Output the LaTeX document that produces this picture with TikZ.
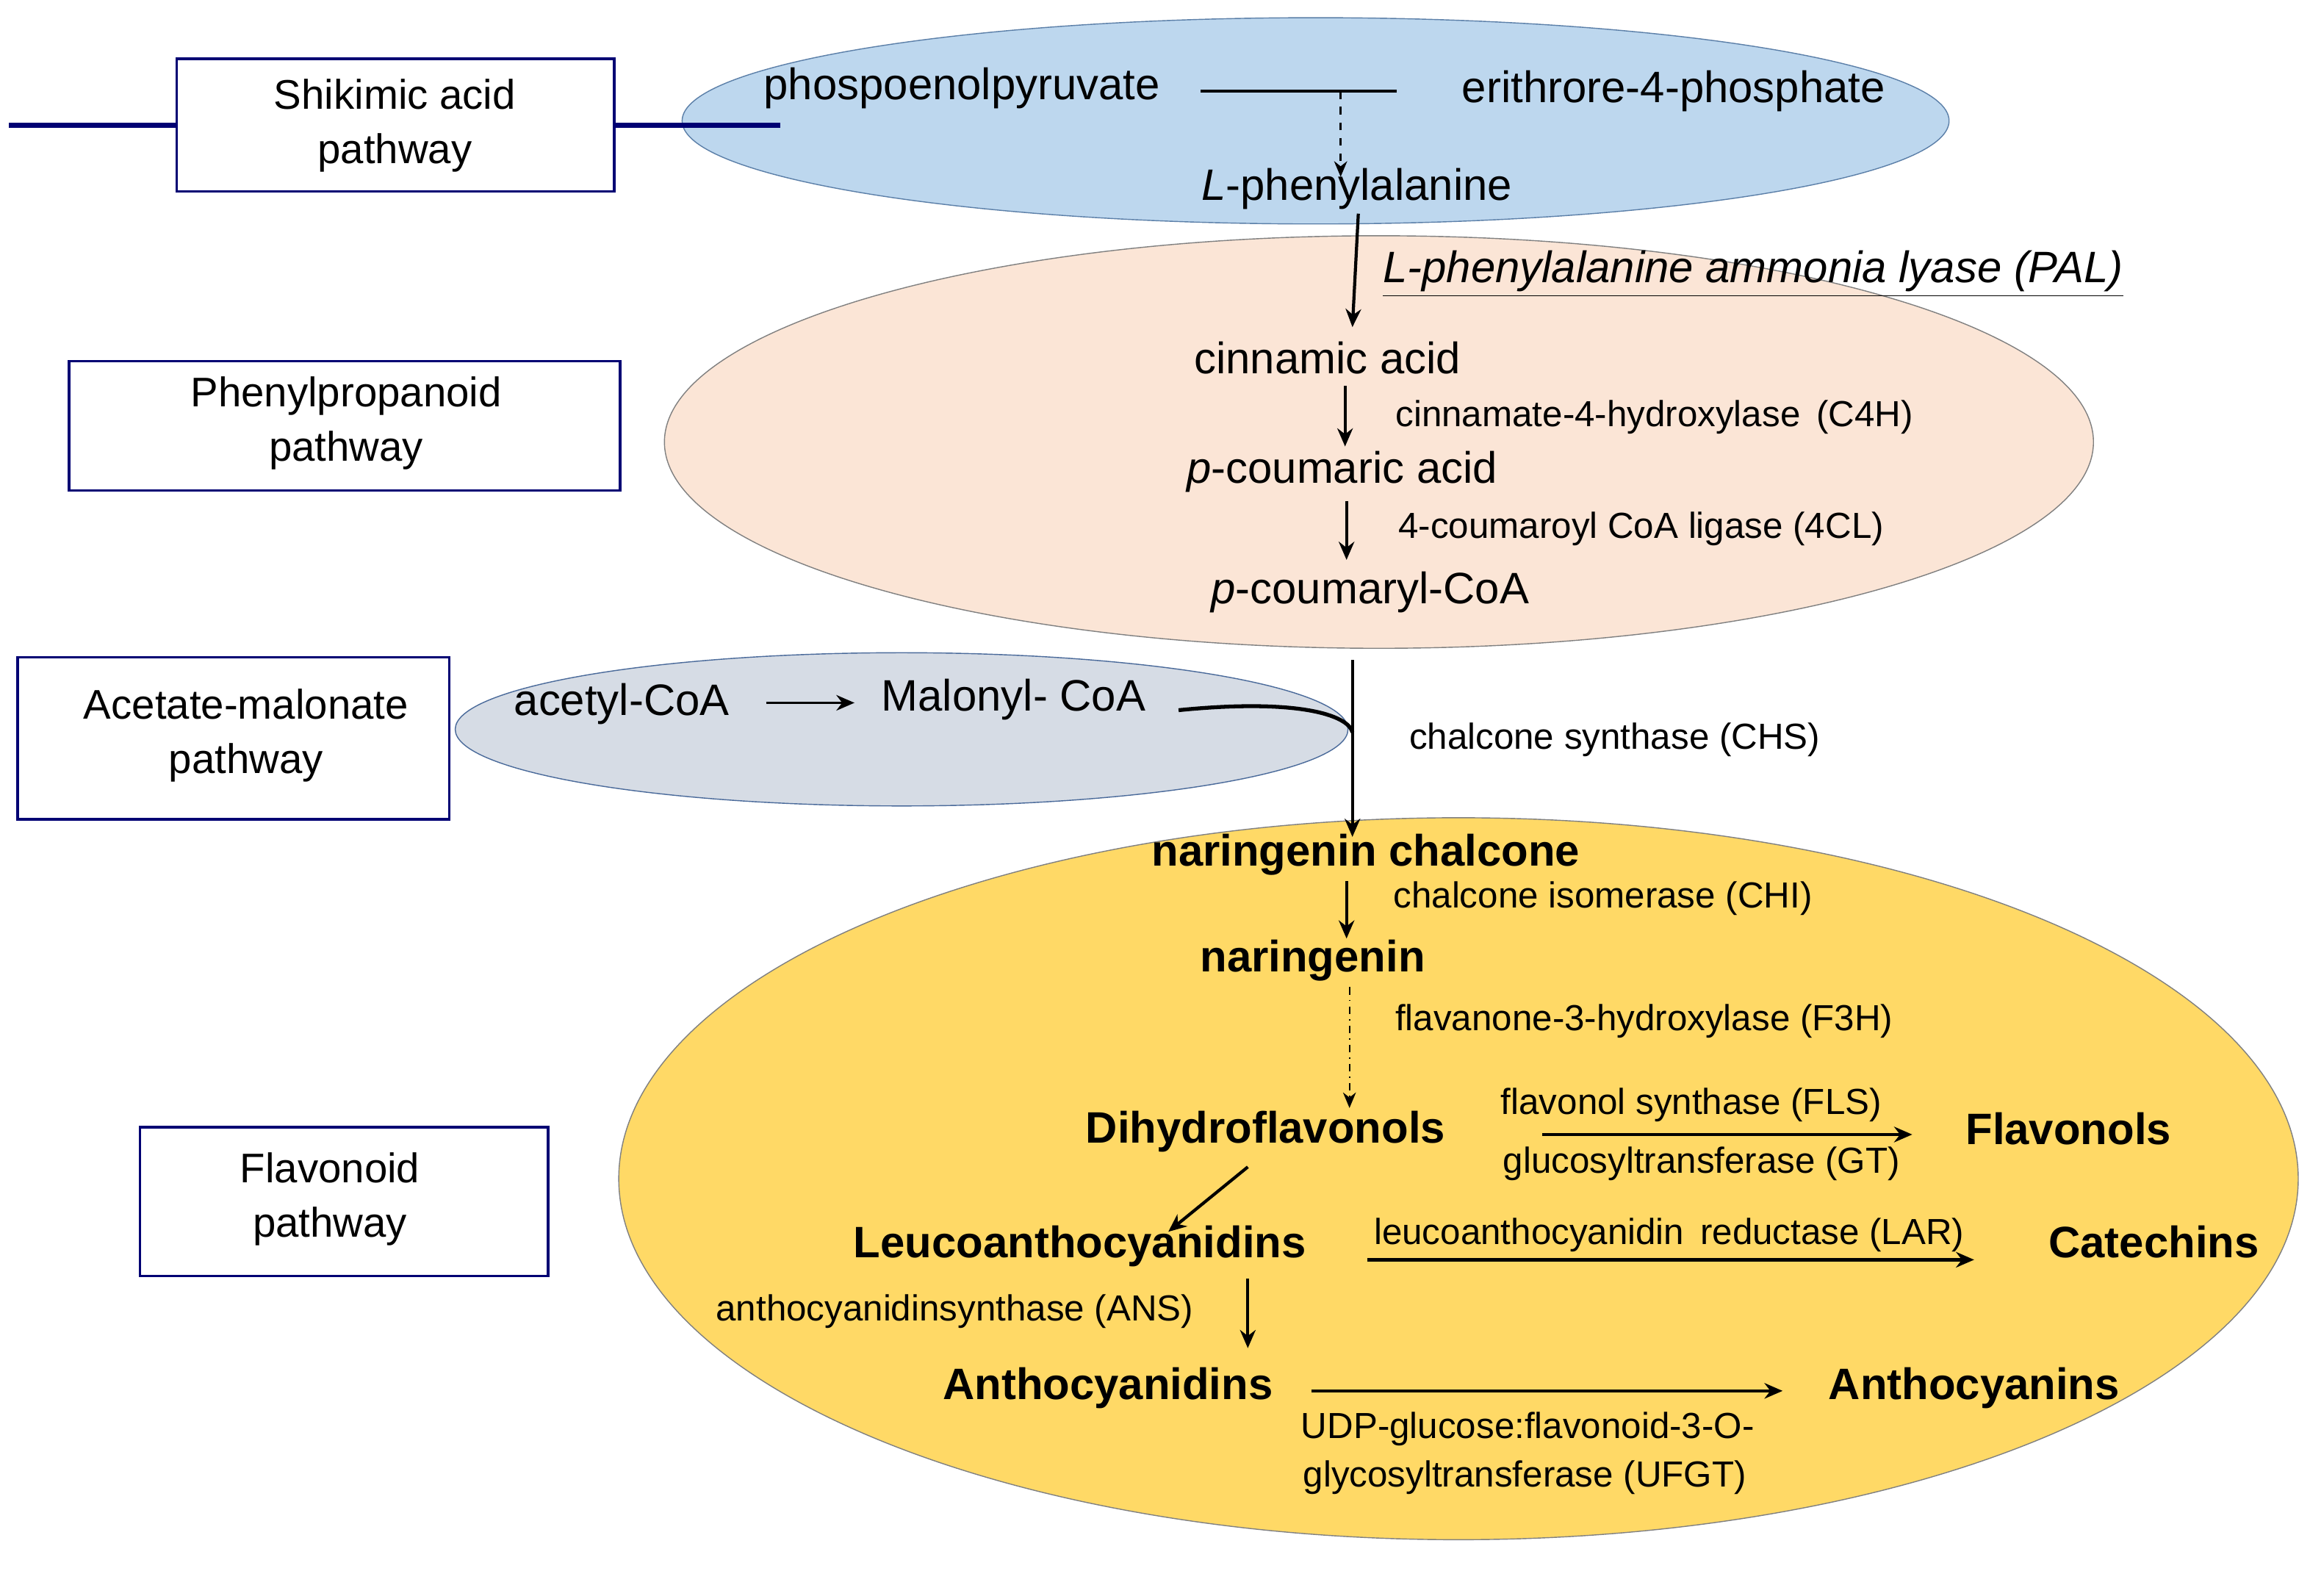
\documentclass[tikz,border=0pt]{standalone}
\usepackage{fontspec}
\setmainfont{Liberation Sans}
\usetikzlibrary{arrows.meta}
\begin{document}
\begin{tikzpicture}[x=0.02cm,y=-0.02cm,
 big/.style={font=\fontsize{17}{20}\selectfont},
 bb/.style={font=\fontsize{17}{20}\selectfont\bfseries},
 sm/.style={font=\fontsize{14}{17}\selectfont},
 box/.style={draw=blue!45!black,line width=1pt,fill=white,align=center,font=\fontsize{16}{21}\selectfont,inner sep=0},
 arr/.style={-{Stealth[length=7pt,width=6pt]},line width=1.2pt}]
\useasboundingbox (0,0) rectangle (1568,1083);
% ellipses
\fill[yellow!70!orange!60, fill={rgb,255:red,255;green,217;blue,102}, draw=gray] (990,800) ellipse [x radius=570,y radius=245];
\draw[fill={rgb,255:red,251;green,229;blue,214},draw=gray] (936,300) ellipse [x radius=485,y radius=140];
\draw[fill={rgb,255:red,189;green,215;blue,238},draw={rgb,255:red,91;green,127;blue,168}] (893,82) ellipse [x radius=430,y radius=70];
\draw[fill={rgb,255:red,214;green,220;blue,229},draw={rgb,255:red,74;green,106;blue,154}] (612,495) ellipse [x radius=303,y radius=52];
% boxes
\node[box,minimum width=297\pgflinewidth] (b1) at (268,85) {};
\draw[blue!45!black,line width=1pt,fill=white] (120,40) rectangle (417,130);
\node[align=center,font=\fontsize{16}{21}\selectfont] (t1) at (268,85) {Shikimic acid\\pathway};
\draw[blue!45!black,line width=1pt,fill=white] (47,245) rectangle (421,333);
\node[align=center,font=\fontsize{16}{21}\selectfont] (t2) at (235,287) {Phenylpropanoid\\pathway};
\draw[blue!45!black,line width=1pt,fill=white] (12,446) rectangle (305,556);
\node[align=center,font=\fontsize{16}{21}\selectfont] (t3) at (167,499) {Acetate-malonate\\pathway};
\draw[blue!45!black,line width=1pt,fill=white] (95,765) rectangle (372,866);
\node[align=center,font=\fontsize{16}{21}\selectfont] (t4) at (224,814) {Flavonoid\\pathway};
% shikimate
\node[big] (pep) at (653,60) {phospoenolpyruvate};
\node[big] (e4p) at (1136,62) {erithrore-4-phosphate};
\coordinate (j1) at (815,62); \coordinate (j2) at (948,62);
\draw[line width=1.2pt] (j1) -- (j2);
\coordinate (d1) at (910,62); \coordinate (d2) at (910,120);
\draw[dashed,line width=1pt,-{Stealth[length=6pt,width=5pt]},draw=black] (d1) -- (d2);
\node[big] (phe) at (921,128) {\textit{L}-phenylalanine};
\node[big] (cin) at (901,243) {cinnamic acid};
\draw[arr] (922,145) -- (918,222);
\node[big,font=\fontsize{17}{20}\selectfont\itshape] (pal) at (1190,186) {\underline{L-phenylalanine ammonia lyase (PAL)}};
\node[big] (pca) at (911,320) {\textit{p}-coumaric acid};
\draw[arr] (913,262) -- (913,303);
\node[sm] at (1123,283) {cinnamate-4-hydroxylase \,(C4H)};
\node[big] (pcoa) at (930,402) {\textit{p}-coumaryl-CoA};
\draw[arr] (914,340) -- (914,380);
\node[sm] at (1114,359) {4-coumaroyl CoA ligase (4CL)};
% acetate
\node[big] (ac) at (422,478) {acetyl-CoA};
\node[big] (mal) at (688,475) {Malonyl- CoA};
\draw[-{Stealth[length=7pt,width=6pt]},line width=1pt] (520,477) -- (580,477);
\draw[line width=1.5pt] (800,482) .. controls (880,474) and (915,485) .. (918,497);
\node[bb,font=\fontsize{17}{20}\selectfont\bfseries] (nc) at (927,580) {naringenin chalcone};
\draw[arr] (918,448) -- (918,568);
\node[sm] at (1096,502) {chalcone synthase (CHS)};
% flavonoid
\node[bb] (nar) at (891,652) {naringenin};
\draw[arr] (914,598) -- (914,637);
\node[sm] at (1088,610) {chalcone isomerase (CHI)};
\node[bb] (dhf) at (859,768) {Dihydroflavonols};
\draw[dash dot,line width=0.6pt,-{Stealth[length=6pt,width=5pt]}] (916,670) -- (916,752);
\node[sm] at (1116,693) {flavanone-3-hydroxylase (F3H)};
\node[bb] (flv) at (1404,766) {Flavonols};
\draw[arr] (1047,770) -- (1298,770);
\node[sm] at (1148,750) {flavonol synthase (FLS)};
\node[sm] at (1155,790) {glucosyltransferase (GT)};
\node[bb] (leu) at (733,846) {Leucoanthocyanidins};
\draw[arr] (847,792) -- (793,836);
\node[bb] (cat) at (1462,843) {Catechins};
\draw[arr] (928,855) -- (1340,855);
\node[sm] at (1133,838) {leucoanthocyanidin \,reductase (LAR)};
\node[sm] at (648,890) {anthocyanidinsynthase (ANS)};
\node[bb] (ant) at (752,942) {Anthocyanidins};
\draw[arr] (847,868) -- (847,915);
\node[bb] (acn) at (1340,942) {Anthocyanins};
\draw[arr] (890,944) -- (1210,944);
\node[sm] at (1037,970) {UDP-glucose:flavonoid-3-O-};
\node[sm] at (1035,1003) {glycosyltransferase (UFGT)};
\end{tikzpicture}
\end{document}
